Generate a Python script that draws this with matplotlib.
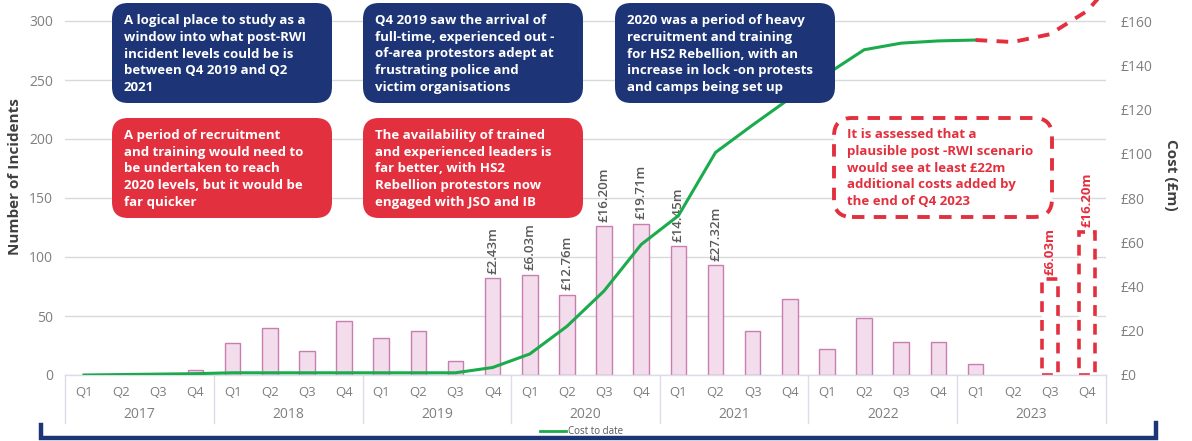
import matplotlib
matplotlib.use("Agg")
import matplotlib.pyplot as plt
from matplotlib.patches import FancyBboxPatch
from matplotlib.lines import Line2D
import numpy as np

plt.rcParams['font.family'] = ['Open Sans', 'DejaVu Sans']

years = ['2017', '2018', '2019', '2020', '2021', '2022', '2023']
quarters = ['Q1', 'Q2', 'Q3', 'Q4']

# incidents per quarter, Q1 2017 .. Q4 2023
incidents = [0, 0, 0, 4,
             27, 40, 20, 46,
             31, 37, 12, 82,
             85, 68, 126, 128,
             109, 93, 37, 64,
             22, 48, 28, 28,
             9, 0, 0, 0]

# cumulative cost (GBP m), Q1 2017 .. Q1 2023
cost = [0, 0.2, 0.4, 0.6,
        1, 1, 1, 1,
        1, 1, 1, 3.4,
        9.5, 22, 38, 59,
        72, 100.6, 113, 125,
        136, 147, 150, 151,
        151.4]

# projected cost, Q1 2023 .. Q4 2023 then off the top
scenario_cost = [151.4, 150.5, 154, 164.5, 174]
scenario_x = [24, 25, 26, 27, 27.5]

# quarterly cost labels on the bars
bar_labels = {11: '£2.43m', 12: '£6.03m', 13: '£12.76m', 14: '£16.20m',
              15: '£19.71m', 16: '£14.45m', 17: '£27.32m'}

# hypothetical bars for Q3 and Q4 2023
scenario_idx = [26, 27]
scenario_incidents = [81, 121]
scenario_labels = ['£6.03m', '£16.20m']

navy = '#1d3577'
red = '#e3303f'
green = '#1aab4b'
grey = '#7f7f7f'

W, H = 1192, 441
fig = plt.figure(figsize=(W / 100, H / 100), dpi=100)


def fx(x):
    return x / W


def fy(y):
    return 1 - y / H


ax = fig.add_axes([fx(65.4), fy(375), fx(1105.6) - fx(65.4), fy(0) - fy(375)])
ax2 = ax.twinx()

x = np.arange(len(incidents))
ax.bar(x, incidents, width=0.42, color='#f3dcec', edgecolor='#c77fb0',
       linewidth=[1 if v > 0 else 0 for v in incidents], zorder=2)
ax.bar(scenario_idx, scenario_incidents, width=0.42, color='white', edgecolor=red,
       linewidth=2.6, linestyle=(0, (3, 2.2)), zorder=2)

for i, lab in bar_labels.items():
    ax.text(i, incidents[i] + 4, lab, rotation=90, ha='center', va='bottom',
            fontsize=9.5, color='#595959', fontweight='semibold', zorder=3)
for i, v, lab in zip(scenario_idx, scenario_incidents, scenario_labels):
    ax.text(i, v + 4, lab, rotation=90, ha='center', va='bottom',
            fontsize=9.5, color=red, fontweight='bold', zorder=3)

ymax = 375 / 1.18
ax.set_ylim(0, ymax)
ax.set_xlim(-0.5, 27.5)
ax.set_yticks(range(0, 301, 50))
ax.yaxis.grid(True, color='#d9d9d9', linewidth=1)
ax.set_axisbelow(True)
ax.tick_params(axis='y', length=0, pad=9, labelsize=10, labelcolor=grey)
ax.set_xticks([])
for s in ax.spines.values():
    s.set_visible(False)

ax2.plot(np.arange(len(cost)), cost, color=green, linewidth=2.2, zorder=3)
ax2.plot(scenario_x, scenario_cost, color=red, linewidth=2.8, linestyle=(0, (3, 2.4)), zorder=3)
ax2.set_ylim(0, ymax * 160 / 300)
ax2.set_yticks(range(0, 161, 20))
ax2.set_yticklabels(['£%d' % v for v in range(0, 161, 20)])
ax2.tick_params(axis='y', length=0, pad=11, labelsize=10, labelcolor=grey)
for s in ax2.spines.values():
    s.set_visible(False)

# category axis
tr = ax.get_xaxis_transform()
line_c = '#dcdcea'
ax.plot([-0.5, 27.5], [0, 0], transform=tr, color=line_c, lw=1, clip_on=False)
for k in range(len(years) + 1):
    xs = -0.5 + 4 * k
    ax.plot([xs, xs], [0, -48 / 375], transform=tr, color=line_c, lw=1, clip_on=False)
for i in x:
    ax.text(i, -18 / 375, quarters[i % 4], transform=tr, ha='center', va='center',
            fontsize=9.5, color=grey)
for k, yr in enumerate(years):
    ax.text(4 * k + 1.5, -40 / 375, yr, transform=tr, ha='center', va='center',
            fontsize=10, color=grey)

fig.text(fx(15), fy(177), 'Number of Incidents', rotation=90, ha='center', va='center',
         fontsize=11, fontweight='bold', color='#404040')
fig.text(fx(1171), fy(175), 'Cost (£m)', rotation=270, ha='center', va='center',
         fontsize=11, fontweight='bold', color='#404040')

# annotation boxes
boxes = [
    (112, 3, navy, 'A logical place to study as a\nwindow into what post-RWI\nincident levels could be is\nbetween Q4 2019 and Q2\n2021'),
    (363, 3, navy, 'Q4 2019 saw the arrival of\nfull-time, experienced out -\nof-area protestors adept at\nfrustrating police and\nvictim organisations'),
    (615, 3, navy, '2020 was a period of heavy\nrecruitment and training\nfor HS2 Rebellion, with an\nincrease in lock -on protests\nand camps being set up'),
    (112, 118, red, 'A period of recruitment\nand training would need to\nbe undertaken to reach\n2020 levels, but it would be\nfar quicker'),
    (363, 118, red, 'The availability of trained\nand experienced leaders is\nfar better, with HS2\nRebellion protestors now\nengaged with JSO and IB'),
]
aspect = W / H
for bx, by, col, txt in boxes:
    p = FancyBboxPatch((fx(bx), fy(by + 100)), fx(220), 100 / H,
                       boxstyle='round,pad=0,rounding_size=%f' % fx(16),
                       mutation_aspect=aspect, transform=fig.transFigure,
                       facecolor=col, edgecolor='none', zorder=5)
    fig.add_artist(p)
    fig.text(fx(bx + 12), fy(by + 51), txt, ha='left', va='center', color='white',
             fontsize=9.5, fontweight='bold', linespacing=1.36, zorder=6)

p = FancyBboxPatch((fx(834), fy(217)), fx(218), 99 / H,
                   boxstyle='round,pad=0,rounding_size=%f' % fx(18),
                   mutation_aspect=aspect, transform=fig.transFigure,
                   facecolor='white', edgecolor=red, linewidth=2.8,
                   linestyle=(0, (3.2, 2.4)), zorder=5)
fig.add_artist(p)
fig.text(fx(847), fy(168), 'It is assessed that a\nplausible post -RWI scenario\nwould see at least £22m\nadditional costs added by\nthe end of Q4 2023',
         ha='left', va='center', color=red, fontsize=9.5, fontweight='bold',
         linespacing=1.36, zorder=6)

# legend
fig.add_artist(Line2D([fx(540), fx(566)], [fy(431), fy(431)], color=green, lw=2,
                      transform=fig.transFigure))
fig.text(fx(568), fy(431), 'Cost to date', ha='left', va='center', fontsize=7, color='#595959')

# bottom bracket
fig.add_artist(Line2D([fx(41), fx(41), fx(1156), fx(1156)],
                      [fy(425), fy(438), fy(438), fy(423)],
                      color=navy, lw=3.2, transform=fig.transFigure,
                      solid_joinstyle='miter'))

fig.savefig('out.png', dpi=100)
